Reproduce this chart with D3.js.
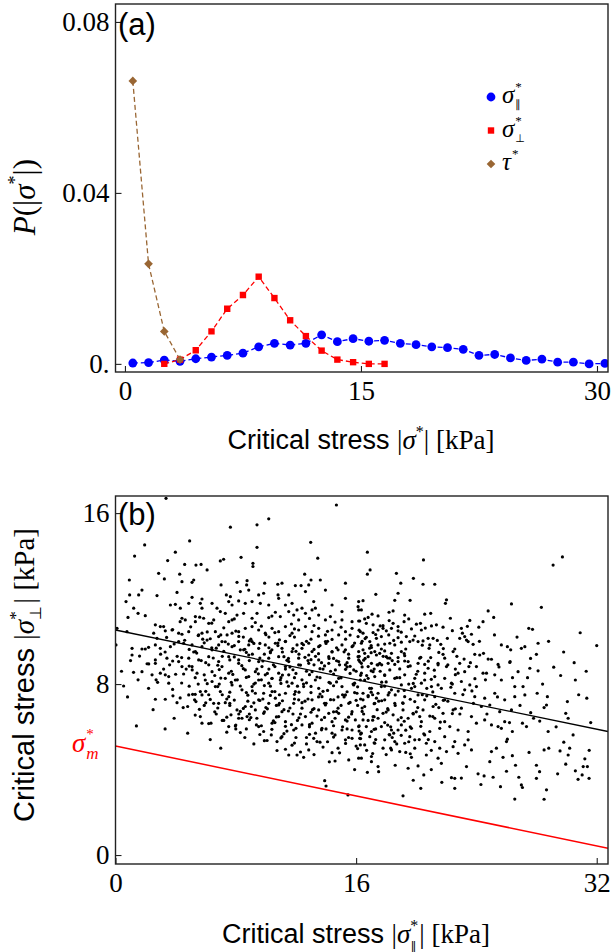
<!DOCTYPE html>
<html>
<head>
<meta charset="utf-8">
<script src="https://cdn.jsdelivr.net/npm/d3@7"></script>
<style>
  html, body { margin: 0; padding: 0; background: #fff; }
  svg { display: block; -webkit-font-smoothing: antialiased; }
  .gray-aa { opacity: 0.995; }
</style>
</head>
<body>
<script>
// ---------- panel (a): distributions of critical stresses ----------
const binCenters = [0.5,1.5,2.5,3.5,4.5,5.5,6.5,7.5,8.5,9.5,10.5,11.5,12.5,13.5,14.5,15.5,16.5,17.5,18.5,19.5,20.5,21.5,22.5,23.5,24.5,25.5,26.5,27.5,28.5,29.5,30.5];
const pParallel = [0.0002,0.0003,0.0009,0.0006,0.0012,0.0016,0.0020,0.0025,0.0040,0.0048,0.0044,0.0048,0.0068,0.0052,0.0059,0.0053,0.0055,0.0048,0.0045,0.0040,0.0038,0.0034,0.0020,0.0022,0.0014,0.0008,0.0011,0.0004,0.0004,0.0000,0.0001];
const perpCenters = [2.5,3.5,4.5,5.5,6.5,7.5,8.5,9.5,10.5,11.5,12.5,13.5,14.5,15.5,16.5];
const pPerp = [0.0000,0.0010,0.0032,0.0076,0.0129,0.0161,0.0204,0.0154,0.0102,0.0065,0.0031,0.0010,0.0004,0.0000,0.0000];
const shearCenters = [0.5,1.5,2.5,3.5];
const pShear = [0.0662,0.0234,0.0076,0.0010];
const xTicksA = [0, 15, 30];
const xTickLabelsA = ["0", "15", "30"];
const yTicksA = [0, 0.04, 0.08];
const yTickLabelsA = ["0.", "0.04", "0.08"];

// ---------- panel (b): perpendicular vs parallel critical stress ----------
const xTicksB = [0, 16, 32];
const yTicksB = [0, 8, 16];
const fitLineX = [0, 32.75];
const fitLineY = [10.53, 5.78];
const boundLineY = [5.10, 0.32];
const scatterPairs = [
[3.36,16.69],[14.69,16.38],[10.19,15.73],[7.64,15.34],[9.41,15.45],[4.93,14.70],[1.94,14.51],[9.41,14.40],[12.98,14.63],[1.27,13.99],
[3.98,14.17],[8.35,13.93],[13.45,13.89],[6.97,13.76],[7.19,13.84],[3.47,13.78],[4.60,13.60],[5.35,13.57],[5.69,13.60],[9.14,13.65],
[9.14,13.50],[6.09,13.34],[2.87,13.18],[4.27,13.14],[12.58,13.14],[0.92,12.87],[3.25,12.92],[5.20,12.87],[5.09,12.76],[4.42,12.79],
[7.02,12.64],[8.08,12.76],[8.75,12.84],[9.92,12.72],[10.79,12.67],[11.07,12.72],[11.96,12.61],[12.34,12.61],[12.85,12.64],[13.00,12.87],
[13.62,12.87],[15.29,12.72],[1.76,12.40],[1.54,12.17],[0.94,12.17],[2.76,12.14],[4.09,12.29],[5.09,12.06],[5.75,11.98],[7.37,12.17],
[7.64,12.09],[8.30,12.33],[8.72,12.64],[8.86,12.40],[9.52,12.17],[9.85,12.25],[10.81,12.17],[11.52,12.17],[12.63,12.33],[13.96,12.40],
[15.29,12.01],[16.17,11.86],[0.70,11.86],[1.21,11.55],[1.50,11.31],[1.98,11.20],[0.83,11.12],[3.65,11.70],[3.98,11.73],[4.31,11.55],
[4.87,11.78],[5.64,11.78],[5.75,11.55],[6.42,11.78],[6.75,11.55],[7.53,11.86],[7.75,11.70],[8.19,11.89],[8.63,11.78],[9.08,11.86],
[9.63,11.78],[10.19,11.70],[10.85,12.01],[11.30,11.70],[11.74,11.78],[12.07,11.47],[12.40,11.55],[13.18,11.86],[13.29,11.55],[14.40,11.70],
[15.06,11.39],[16.17,11.47],[2.65,10.77],[2.98,10.69],[3.20,10.69],[3.76,10.53],[4.42,11.08],[4.64,11.00],[5.31,11.16],[5.31,10.92],
[5.86,11.08],[6.20,10.84],[6.53,11.00],[6.97,11.39],[7.30,11.31],[7.53,10.92],[7.75,11.00],[8.08,11.23],[8.52,11.31],[9.08,11.08],
[9.41,11.31],[10.19,11.11],[10.63,11.36],[10.96,11.16],[11.52,11.39],[11.85,11.23],[12.18,11.00],[12.63,11.31],[13.07,11.47],[13.51,11.23],
[13.96,11.00],[14.29,11.16],[15.06,11.00],[15.73,10.92],[16.17,10.95],[0.10,10.61],[0.76,10.45],[2.54,10.38],[2.76,10.14],[3.31,10.49],
[4.20,10.38],[4.42,10.33],[4.87,10.45],[5.53,10.30],[5.75,10.38],[6.09,10.06],[6.64,10.45],[6.86,10.22],[7.42,10.30],[7.75,10.38],
[8.19,10.45],[8.63,10.61],[9.08,10.69],[9.52,10.53],[9.96,10.38],[10.41,10.61],[10.85,10.45],[11.30,10.69],[11.74,10.38],[12.18,10.53],
[12.63,10.69],[13.07,10.45],[13.51,10.61],[13.96,10.30],[14.40,10.53],[14.84,10.30],[15.29,10.45],[15.73,10.61],[16.28,10.45],[0.03,9.83],
[1.10,9.67],[1.10,9.36],[1.76,9.64],[1.98,9.64],[2.65,9.83],[2.98,9.67],[3.65,9.75],[4.20,9.99],[4.53,9.91],[5.09,9.83],
[5.31,9.52],[5.75,9.75],[6.42,9.60],[6.86,9.83],[7.08,9.99],[7.75,9.75],[8.19,9.99],[8.52,9.60],[8.86,9.83],[9.08,9.99],
[9.52,9.67],[9.96,9.83],[10.30,9.52],[10.63,9.91],[11.07,9.67],[11.30,9.99],[11.74,9.52],[12.07,9.83],[12.40,9.67],[12.85,9.91],
[13.07,9.52],[13.51,9.75],[13.96,9.99],[14.40,9.52],[15.06,9.83],[15.29,9.60],[15.73,9.75],[16.17,9.52],[2.65,9.13],[3.42,9.21],
[4.20,9.05],[4.87,9.21],[5.53,9.13],[6.20,9.28],[6.86,9.05],[7.53,9.28],[8.19,9.13],[8.86,9.36],[9.52,9.05],[10.19,9.21],
[10.85,9.28],[11.52,9.05],[12.18,9.21],[12.85,9.36],[13.51,9.13],[14.18,9.28],[14.84,9.05],[15.51,9.21],[16.17,9.13],
[16.75,14.17],[20.48,13.81],[29.72,13.95],[29.10,13.57],[16.93,13.34],[16.75,13.14],[18.68,13.18],[19.81,12.95],[18.97,12.72],[20.45,12.67],
[21.23,12.67],[17.31,12.20],[18.79,12.25],[16.46,11.90],[18.57,11.92],[19.59,11.92],[22.01,11.94],[21.94,11.78],[26.33,11.75],[28.32,11.59],
[16.13,11.62],[16.35,11.47],[17.06,11.27],[17.46,11.19],[18.19,11.36],[18.46,11.42],[19.23,11.23],[20.56,11.27],[20.96,11.31],[22.27,11.08],
[24.78,11.42],[25.15,11.12],[24.44,10.92],[23.56,10.98],[16.57,11.05],[16.24,10.95],[16.68,10.84],[17.13,10.77],[17.79,10.73],[18.46,10.84],
[18.79,10.69],[19.19,10.92],[20.01,10.80],[20.28,10.84],[21.01,10.72],[21.34,10.77],[21.78,10.66],[19.68,10.58],[20.34,10.53],[17.79,10.61],
[18.01,10.49],[18.35,10.61],[18.79,10.49],[16.46,10.38],[17.13,10.41],[17.46,10.53],[23.00,10.61],[24.16,10.66],[27.48,10.61],[27.73,10.56],
[23.07,10.38],[23.67,10.33],[16.13,10.22],[16.68,10.19],[17.35,10.14],[17.68,10.22],[18.17,10.30],[18.79,10.17],[19.34,10.22],[19.79,10.06],
[20.12,9.99],[20.79,10.14],[21.12,10.14],[22.07,10.14],[22.89,10.14],[23.22,10.22],[23.34,10.06],[16.35,9.91],[16.91,9.99],[17.46,9.83],
[18.24,9.91],[18.57,9.83],[19.01,9.96],[19.57,9.99],[20.45,10.02],[20.90,9.83],[21.63,9.86],[23.45,9.99],[23.78,9.86],[25.66,9.83],
[26.06,9.75],[26.28,9.60],[26.99,9.67],[27.22,9.75],[28.10,9.91],[16.46,9.60],[17.02,9.71],[17.24,9.52],[17.68,9.64],[17.90,9.55],
[18.35,9.44],[19.01,9.52],[19.23,9.33],[20.85,9.67],[21.78,9.39],[22.56,9.64],[22.45,9.52],[23.89,9.39],[24.22,9.36],[24.47,9.44],
[27.99,9.39],[16.13,9.28],[16.57,9.44],[16.80,9.28],[17.35,9.36],[17.57,9.44],[18.01,9.28],[18.24,9.21],[18.79,9.24],[20.23,9.21],
[20.96,9.24],[21.89,9.21],[23.18,9.17],[24.78,9.17],[25.00,9.16],[26.24,9.05],[19.23,9.08],[19.46,9.05],[22.89,8.97],[25.44,8.92],
[16.35,8.97],[17.02,8.97],[17.57,8.97],[18.57,8.92],[20.56,8.92],[21.45,8.97],
[0.54,7.91],[1.39,6.04],[1.76,8.58],[2.21,8.94],[2.65,8.97],[2.43,8.43],[2.80,8.08],[2.98,8.51],[3.31,8.43],[3.54,8.35],
[3.54,8.04],[2.65,7.29],[3.31,7.29],[3.82,7.45],[4.09,7.13],[4.42,8.82],[4.53,8.47],[4.87,7.49],[5.13,7.52],[5.26,7.26],
[5.35,7.18],[5.64,7.65],[5.75,7.49],[5.58,6.82],[5.64,6.48],[5.75,6.17],[6.35,6.17],[6.42,8.12],[6.53,7.10],[6.86,7.10],
[7.30,7.13],[7.53,6.01],[7.97,6.04],[8.30,5.73],[7.68,6.56],[8.08,6.79],[8.19,6.40],[8.41,6.40],[8.75,6.48],[8.90,6.60],
[9.03,6.95],[9.37,6.09],[9.52,6.01],[9.85,5.78],[10.08,5.36],[10.36,5.62],[10.74,5.31],[10.74,4.89],[11.07,5.54],[11.52,4.68],
[11.74,5.14],[12.07,4.68],[12.51,4.57],[12.85,4.92],[13.18,5.46],[13.40,5.31],[13.91,3.48],[14.00,3.23],[14.22,4.36],[14.40,4.79],
[15.51,4.45],[15.46,2.81],[16.17,4.53],[16.28,5.15],[15.73,5.46],[15.29,5.39],[15.06,5.85],[14.40,5.70],[13.73,5.93],[13.07,6.17],
[12.40,6.09],[11.85,5.85],[11.30,6.24],[10.85,6.48],[10.41,6.17],[9.85,6.63],[9.30,6.79],[8.63,6.95],[7.53,7.41],[6.97,7.65],
[6.64,7.88],[5.97,8.19],[5.42,8.51],[5.09,8.82],[7.08,8.82],[7.53,8.51],[7.97,8.19],[8.19,8.97],[8.63,8.66],[8.86,8.35],
[9.08,7.88],[9.30,7.57],[9.52,7.26],[9.74,8.82],[9.96,8.43],[10.19,8.04],[10.41,7.65],[10.63,7.34],[10.85,7.02],[11.07,6.71],
[11.30,8.82],[11.52,8.43],[11.74,8.04],[11.96,7.65],[12.18,7.26],[12.40,6.87],[12.63,6.48],[12.85,8.97],[13.07,8.58],[13.29,8.19],
[13.51,7.80],[13.73,7.41],[13.96,7.02],[14.18,6.63],[14.40,6.24],[14.62,8.66],[14.84,8.27],[15.06,7.88],[15.29,7.49],[15.51,7.10],
[15.73,6.71],[15.95,6.32],[16.17,6.01],[16.28,8.19],[16.06,7.57],[15.84,8.66],[15.29,8.90],[14.18,8.97],[12.18,8.90],[10.85,8.51],
[10.41,8.27],[9.52,8.19],[8.41,7.73],[7.75,7.96],[7.30,8.27],[6.42,8.58],[6.20,8.90],[9.85,7.57],[10.19,7.10],[11.30,7.57],
[11.85,7.10],[13.07,7.26],[13.51,6.79],[14.51,7.26],[14.84,6.63],[15.29,6.32],[15.73,5.85],[9.30,8.58],[10.96,8.19],[12.51,7.88],
[14.29,8.04],[15.84,7.96],
[16.24,9.05],[16.80,8.82],[17.46,8.90],[18.13,8.97],[18.79,9.05],[19.46,8.82],[20.12,8.97],[20.79,8.74],[21.45,8.90],[22.01,8.82],
[22.78,8.51],[23.22,8.58],[24.00,8.82],[24.67,8.51],[25.22,8.43],[26.22,9.01],[26.77,8.58],[27.55,8.74],[28.10,8.62],[29.14,8.79],
[30.58,8.19],[31.34,7.34],[30.05,7.18],[29.94,6.63],[30.43,5.62],[28.72,7.41],[28.66,7.02],[28.04,7.57],[27.61,6.66],[28.21,6.27],
[28.77,5.78],[28.50,4.92],[28.81,5.00],[29.56,4.87],[29.81,5.28],[30.10,4.68],[31.21,4.50],[31.10,4.14],[31.38,4.14],[30.58,3.94],
[31.03,3.75],[31.49,3.59],[30.76,3.54],[29.94,4.25],[28.66,3.05],[28.50,2.61],[27.99,4.20],[27.99,3.59],[26.99,3.28],[27.06,3.16],
[26.55,2.62],[26.82,3.64],[26.00,3.92],[26.39,4.65],[25.77,4.57],[26.00,5.31],[26.06,5.42],[25.66,5.93],[25.33,5.00],[25.00,4.84],
[24.89,4.37],[25.11,3.64],[24.51,3.70],[24.11,3.80],[23.34,4.14],[22.56,3.59],[22.56,3.12],[22.34,3.62],[20.30,3.12],[20.50,3.75],
[19.12,2.77],[19.46,4.06],[20.12,4.17],[16.75,3.87],[17.02,4.37],[17.46,4.14],[17.02,4.61],[16.35,4.53],[17.79,5.00],[18.35,4.92],
[18.90,4.84],[19.68,4.57],[20.67,4.68],[21.45,4.53],[21.67,4.29],[22.01,4.84],[22.78,4.76],[23.67,4.92],[23.22,5.15],[22.56,5.31],
[21.89,5.54],[21.23,5.31],[20.56,5.62],[19.90,5.39],[19.23,5.23],[18.57,5.31],[17.90,5.39],[17.24,5.23],[16.57,5.15],[16.35,5.70],
[17.02,5.78],[17.68,6.01],[18.35,5.85],[19.01,6.09],[19.68,5.93],[20.34,6.24],[20.90,5.78],[21.56,5.93],[22.23,6.01],[22.78,5.85],
[23.45,5.78],[24.00,6.17],[24.55,6.32],[25.00,6.09],[25.44,6.01],[25.88,6.24],[26.39,5.78],[27.06,6.17],[27.33,6.01],[16.46,6.32],
[17.13,6.48],[17.79,6.63],[18.46,6.56],[19.12,6.79],[19.79,6.63],[20.45,6.79],[21.12,6.95],[21.78,6.63],[22.45,6.79],[23.00,6.87],
[23.67,6.48],[24.33,6.95],[24.89,7.02],[25.55,6.71],[26.33,6.79],[16.57,6.95],[17.24,7.10],[17.90,7.26],[18.57,7.10],[19.23,7.41],
[19.90,7.18],[20.56,7.26],[21.23,7.41],[21.89,7.26],[22.56,7.57],[23.22,7.73],[23.89,7.41],[24.55,7.34],[25.22,7.57],[25.88,7.26],
[26.55,7.41],[27.22,7.49],[16.46,7.57],[17.02,7.80],[17.68,7.88],[18.35,7.73],[19.01,7.96],[19.68,7.80],[20.34,8.04],[21.01,7.88],
[21.67,7.80],[22.34,8.04],[23.00,8.12],[23.56,7.96],[24.00,7.88],[24.44,8.51],[25.66,8.19],[26.55,7.88],[27.10,7.88],[16.57,8.19],
[17.24,8.35],[17.90,8.43],[18.57,8.27],[19.23,8.43],[19.90,8.27],[20.56,8.51],[21.23,8.35],[21.89,8.27],[16.80,7.41],[17.46,7.57],
[18.13,6.79],[18.79,6.32],[16.35,8.51],[17.13,8.58],[18.24,8.66],[20.56,8.19],[21.45,7.96],[16.46,7.26],[17.35,7.34],[18.13,7.49],
[19.12,7.10],[20.12,7.49],[16.68,6.01],[17.46,6.40],[18.79,5.85],[19.46,6.40],[20.23,6.48],[21.23,6.40],[21.89,6.24],[16.24,5.46],
[16.91,5.54],[18.24,5.62],[19.57,5.54],[20.67,5.23],[21.56,5.00],[22.45,5.07],[23.45,5.39],
[8.3,9.6],[8.9,9.1],[9.4,8.7],[9.9,9.4],[10.5,8.9],[11.1,9.5],[11.6,8.8],[12.2,9.4],[12.7,8.6],[13.3,9.3],
[13.8,8.7],[14.4,9.5],[14.9,8.9],[15.5,9.4],[16.0,8.6],[16.6,9.2],[17.2,8.7],[17.8,9.3],[8.1,8.2],[8.7,7.6],
[9.2,8.0],[9.8,7.3],[10.3,7.9],[10.9,7.5],[11.4,8.1],[11.9,7.3],[12.5,8.0],[13.0,7.6],[13.6,8.3],[14.1,7.7],
[14.7,8.1],[15.2,7.4],[15.8,8.0],[16.3,7.3],[16.9,7.8],[17.5,7.2],[7.6,7.0],[8.2,6.6],[8.8,7.2],[9.4,6.4],
[10.0,6.9],[10.6,6.2],[11.2,6.8],[11.7,6.1],[12.3,6.6],[12.9,6.0],[13.4,6.5],[14.0,5.9],[14.6,6.4],[15.1,6.0],
[15.7,6.6],[16.2,5.8],[16.8,6.3],[17.3,5.9],[17.9,6.2],[18.5,5.7],[9.0,10.1],[9.6,9.9],[10.2,10.2],[10.8,9.8],
[11.3,10.0],[11.9,10.2],[12.4,9.9],[13.0,10.1],[13.6,9.8],[14.1,10.0],[14.7,9.7],[15.3,10.1],[15.8,9.8],[16.4,10.0],
[17.0,9.8],[6.0,9.0],[6.6,8.4],[7.1,9.3],[7.7,8.6],[5.5,8.0],[6.2,7.5],[6.9,8.0],[7.4,7.3],[5.9,7.0],
[6.7,6.6],[7.2,6.3],[8.0,5.9],[8.6,5.5],[9.2,5.2],[12.0,8.5],[12.6,7.2],[13.2,8.9],[13.9,7.1],[14.3,8.6],
[15.0,7.0],[15.6,8.5],[16.1,7.0],[16.7,8.4],[17.4,6.8],[18.0,8.1],[18.6,7.0],[19.2,7.7],[19.8,6.6],[20.4,7.5],
[10.1,8.5],[10.7,7.0],[11.3,8.7],[11.8,6.6],[12.4,8.2],[13.1,6.8],[13.7,9.0],[14.5,6.7],[15.4,8.8],[16.5,6.6],
[17.6,8.6],[18.3,6.0],[19.0,5.6],[19.6,6.0],[20.2,5.4],[20.9,6.5],[21.5,6.9],[22.1,7.2],[9.1,9.4],[9.7,8.2],
[10.4,9.6],[11.0,8.3],[11.5,9.2],[12.1,7.9],[12.8,9.1],[13.5,7.4],[14.2,9.2],[14.8,7.4],[15.4,9.0],[15.9,7.6],
[16.4,8.8],[17.1,7.5],[17.7,8.9],[18.2,7.6],[18.9,8.3],[19.5,8.0],[20.1,8.6],[20.7,7.8],[7.9,9.8],[8.5,10.2],
[7.0,10.3],[6.4,9.7],[5.8,10.1],[5.2,9.5],[4.7,8.7],[4.1,9.3],[3.6,8.9],[3.0,9.4],[11.4,5.8],[12.0,5.5],
[12.7,5.2],[13.3,5.7],[14.1,5.3],[14.8,5.0],[15.5,5.5],[16.0,5.1],[16.7,4.9],[17.3,5.4],[18.0,4.7],[18.7,5.2],
[19.3,4.8],[19.9,5.0],[13.2,4.7],[14.6,4.4],[15.9,4.0],[17.5,3.9],[18.6,4.2],[19.8,3.5],[21.0,4.0],[21.7,3.4],
[23.0,3.6],[24.3,3.3],[25.6,3.2],[26.6,4.2],[27.5,4.8],[28.2,3.9],[29.4,3.8],[30.2,5.0],[31.5,4.9],[22.9,6.6],
[23.8,7.1],[24.7,6.6],[25.4,7.4],[26.2,6.2],[26.9,7.0],[27.8,6.4],[28.5,6.9],[29.3,6.0],[30.1,6.4],[30.8,7.5],
[31.6,6.2],[22.6,8.7],[23.6,9.0],[24.6,8.2],[25.5,8.8],[26.4,8.3],[27.4,8.3],[28.4,8.0],[29.6,8.4],[30.5,9.0],
[31.3,8.6],[23.4,10.7],[24.2,10.0],[25.2,10.3],[26.7,10.2],[27.6,9.2],[28.8,10.0],[29.8,9.5],[30.9,10.4],[32.0,9.8],
[1.0,9.1],[0.4,8.6],[1.5,8.2],[2.2,7.8],[0.8,7.4],[2.5,6.8],[3.9,6.4],[4.5,6.9],[3.3,5.9],[4.8,5.7],
[6.3,5.4],[7.0,5.0],
// dense central cloud
[4.3,10.92],[5.6,11.13],[6.4,10.85],[7.9,11.05],[9.3,10.88],[10.4,11.18],[11.7,10.81],[12.9,11.07],[14.6,10.9],[16.8,11.12],[18.2,10.97],[19.5,11.05],
[3.8,10.55],[5.0,10.68],[6.1,10.44],[7.2,10.63],[8.0,10.48],[9.7,10.71],[10.6,10.41],[11.9,10.58],[13.2,10.74],[14.1,10.47],[15.0,10.66],[16.2,10.52],[17.6,10.72],[19.0,10.43],[20.6,10.62],[22.4,10.5],
[3.4,10.18],[4.6,10.05],[5.5,10.27],[6.3,10.12],[7.3,9.98],[8.2,10.23],[8.9,10.02],[10.0,10.31],[10.9,10.07],[11.6,10.27],[12.7,10.0],[13.5,10.24],[14.4,10.09],[15.6,10.29],[16.6,10.13],[17.3,10.32],[18.5,10.04],[19.9,10.25],[21.4,10.04],
[2.2,9.72],[3.9,9.88],[4.9,9.62],[5.9,9.93],[6.7,9.68],[7.5,9.87],[8.6,9.63],[9.2,9.9],[10.2,9.7],[10.8,9.92],[11.8,9.66],[12.5,9.84],[13.2,9.62],[14.0,9.9],[14.8,9.6],[15.9,9.92],[16.9,9.68],[17.9,9.87],[19.3,9.64],[20.4,9.82],[21.8,9.66],
[1.6,9.31],[3.3,9.5],[4.4,9.24],[5.4,9.45],[6.5,9.22],[7.2,9.53],[7.9,9.27],[8.7,9.48],[9.6,9.22],[10.3,9.47],[11.2,9.28],[12.0,9.53],[12.6,9.25],[13.5,9.42],[14.5,9.2],[15.2,9.51],[16.2,9.3],[17.0,9.47],[18.1,9.22],[19.2,9.43],[20.3,9.25],[21.5,9.48],[22.7,9.3],
[2.1,8.95],[3.8,9.08],[4.9,8.84],[5.7,9.1],[6.8,8.88],[7.6,9.13],[8.4,8.86],[9.8,9.08],[10.6,8.82],[11.4,9.11],[12.3,8.89],[13.0,9.14],[13.9,8.85],[14.7,9.09],[15.6,8.83],[16.5,9.12],[17.4,8.9],[18.4,9.1],[19.6,8.85],[20.8,9.07],[22.1,8.9],[23.5,8.82],
[1.2,8.55],[3.2,8.7],[4.0,8.46],[5.1,8.66],[5.9,8.43],[6.9,8.68],[7.8,8.45],[8.5,8.72],[9.5,8.48],[10.2,8.7],[11.1,8.42],[11.8,8.67],[12.9,8.44],[13.6,8.72],[14.5,8.47],[15.3,8.69],[16.3,8.41],[17.0,8.62],[17.9,8.4],[18.9,8.71],[20.0,8.46],[21.2,8.65],[22.6,8.44],
[2.7,8.2],[4.4,8.05],[5.3,8.3],[6.1,8.02],[7.0,8.28],[7.7,8.08],[8.7,8.31],[9.3,8.05],[10.4,8.26],[11.0,8.03],[11.9,8.3],[12.7,8.06],[13.4,8.33],[14.2,8.08],[15.0,8.29],[15.9,8.04],[16.8,8.27],[17.7,8.09],[18.7,8.3],[19.8,8.03],[21.0,8.22],[22.4,8.0],[23.9,8.25],
[3.8,7.75],[4.9,7.9],[6.0,7.66],[6.8,7.88],[7.6,7.62],[8.3,7.91],[9.1,7.68],[9.9,7.93],[10.6,7.65],[11.5,7.9],[12.2,7.62],[13.0,7.89],[13.8,7.66],[14.5,7.92],[15.4,7.64],[16.1,7.87],[17.0,7.62],[17.9,7.9],[18.8,7.67],[19.9,7.88],[21.1,7.63],[22.3,7.85],[23.7,7.68],
[4.3,7.35],[5.3,7.52],[6.3,7.28],[7.1,7.5],[7.9,7.25],[8.8,7.48],[9.6,7.23],[10.3,7.47],[11.1,7.22],[11.9,7.52],[12.8,7.3],[13.6,7.53],[14.3,7.27],[15.1,7.5],[16.0,7.24],[16.8,7.46],[17.7,7.22],[18.6,7.49],[19.6,7.29],[20.7,7.45],[21.8,7.24],[23.1,7.51],
[4.8,6.95],[6.0,7.12],[6.8,6.88],[7.6,7.1],[8.5,6.86],[9.2,7.12],[10.1,6.84],[10.9,7.1],[11.6,6.88],[12.4,7.13],[13.2,6.85],[14.0,7.1],[14.8,6.87],[15.6,7.14],[16.4,6.88],[17.2,7.08],[18.1,6.85],[19.1,7.12],[20.1,6.9],[21.3,7.05],[22.6,6.84],
[5.3,6.55],[6.6,6.7],[7.4,6.45],[8.3,6.72],[9.0,6.43],[9.9,6.7],[10.7,6.46],[11.5,6.74],[12.2,6.42],[13.0,6.68],[13.9,6.44],[14.7,6.71],[15.5,6.45],[16.4,6.72],[17.2,6.47],[18.0,6.69],[19.0,6.43],[20.0,6.7],[21.1,6.48],[22.4,6.62],
[6.2,6.15],[7.1,6.3],[8.0,6.08],[8.9,6.33],[9.7,6.05],[10.5,6.28],[11.3,6.02],[12.1,6.3],[12.9,6.1],[13.7,6.33],[14.5,6.05],[15.4,6.27],[16.2,6.04],[17.1,6.31],[18.1,6.08],[19.2,6.26],[20.3,6.02],[21.6,6.22],
[7.4,5.75],[8.7,5.9],[9.6,5.64],[10.4,5.88],[11.2,5.68],[12.0,5.93],[12.9,5.65],[13.7,5.86],[14.6,5.62],[15.4,5.9],[16.3,5.66],[17.2,5.88],[18.2,5.64],[19.3,5.84],[20.5,5.67],
[9.9,5.35],[11.0,5.48],[11.9,5.24],[12.7,5.5],[13.6,5.28],[14.5,5.52],[15.3,5.22],[16.3,5.45],[17.2,5.25],[18.4,5.5],[19.5,5.3],[20.8,5.4],
[11.3,4.95],[12.3,4.82],[13.8,5.05],[14.9,4.78],[16.1,4.98],[17.1,4.75],[18.3,5.0],[19.6,4.74],[21.0,4.9]
];

const W = 611, H = 952;
const SERIF = "'Liberation Serif', 'Times New Roman', serif";
const SANS = "'Liberation Sans', Arial, sans-serif";
const SYM = "'DejaVu Sans', sans-serif";
const BLUE = "#0000ff", RED = "#ff0000", BROWN = "#996633";

const svg = d3.select("body").append("svg")
  .attr("width", W).attr("height", H)
  .attr("viewBox", `0 0 ${W} ${H}`);

// frame geometry
const frameA = { left: 115.5, right: 608, top: 4, bottom: 372 };
const frameB = { left: 115.5, right: 608, top: 496, bottom: 864 };

const xA = d3.scaleLinear().domain([-0.6, 30.7]).range([frameA.left, frameA.right]);
const yA = d3.scaleLinear().domain([-0.0019, 0.0842]).range([frameA.bottom, frameA.top]);
const xB = d3.scaleLinear().domain([0, 32.75]).range([frameB.left, frameB.right]);
const yB = d3.scaleLinear().domain([-0.42, 16.8]).range([frameB.bottom, frameB.top]);

function drawFrame(f) {
  svg.append("rect")
    .attr("x", f.left).attr("y", f.top)
    .attr("width", f.right - f.left).attr("height", f.bottom - f.top)
    .attr("fill", "none").attr("stroke", "#222").attr("stroke-width", 1.4);
}

function styleAxis(g) {
  g.select(".domain").remove();
  g.selectAll(".tick line").attr("stroke", "#222").attr("stroke-width", 1.1);
  g.selectAll(".tick text")
    .attr("font-family", SERIF).attr("font-size", 27).attr("fill", "#000");
}

function drawAxes(f, xs, ys, xt, xl, yt, yl) {
  svg.append("g")
    .attr("transform", `translate(0,${f.bottom})`)
    .call(d3.axisBottom(xs).tickValues(xt).tickFormat((d, i) => xl[i])
      .tickSizeInner(-6).tickSizeOuter(0).tickPadding(9))
    .call(styleAxis)
    .call(g => g.selectAll(".tick text").attr("dy", "0.71em"));
  svg.append("g")
    .attr("transform", `translate(${f.left},0)`)
    .call(d3.axisLeft(ys).tickValues(yt).tickFormat((d, i) => yl[i])
      .tickSizeInner(-6).tickSizeOuter(0).tickPadding(6))
    .call(styleAxis);
}

// ================= panel (a) =================
svg.append("clipPath").attr("id", "clipA")
  .append("rect").attr("x", frameA.left).attr("y", frameA.top)
  .attr("width", frameA.right - frameA.left).attr("height", frameA.bottom - frameA.top);

const plotA = svg.append("g").attr("clip-path", "url(#clipA)");

const lineA = d3.line().x(d => xA(d[0])).y(d => yA(d[1]));
const seriesA = [
  { xs: binCenters, ys: pParallel, color: BLUE, shape: "circle" },
  { xs: perpCenters, ys: pPerp, color: RED, shape: "square" },
  { xs: shearCenters, ys: pShear, color: BROWN, shape: "diamond" }
];

seriesA.forEach(s => {
  const pts = s.xs.map((x, i) => [x, s.ys[i]]);
  plotA.append("path").datum(pts)
    .attr("d", lineA)
    .attr("fill", "none").attr("stroke", s.color)
    .attr("stroke-width", 1.3).attr("stroke-dasharray", "5,3");
});

const symCircle = d3.symbol().type(d3.symbolCircle).size(Math.PI * 4.4 * 4.4);
const symSquare = d3.symbol().type(d3.symbolSquare).size(6.4 * 6.4);
const symDiamond = d3.symbol().type(d3.symbolDiamond2).size(48);
const symOf = { circle: symCircle, square: symSquare, diamond: symDiamond };

seriesA.forEach(s => {
  const pts = s.xs.map((x, i) => [x, s.ys[i]]);
  plotA.selectAll(null).data(pts).enter().append("path")
    .attr("d", symOf[s.shape])
    .attr("transform", d => `translate(${xA(d[0])},${yA(d[1])})`)
    .attr("fill", s.color);
});

drawFrame(frameA);
drawAxes(frameA, xA, yA, xTicksA, xTickLabelsA, yTicksA, yTickLabelsA);

// panel letter
svg.append("text").attr("x", 118).attr("y", 35)
  .attr("font-family", SANS).attr("font-size", 31).text("(a)");

// legend
const legendItems = [
  { shape: "circle", color: BLUE, sym: "σ", sub: "∥" },
  { shape: "square", color: RED, sym: "σ", sub: "⊥" },
  { shape: "diamond", color: BROWN, sym: "τ", sub: null }
];
legendItems.forEach((it, i) => {
  const cy = 97 + i * 33.5;
  svg.append("path").attr("d", symOf[it.shape])
    .attr("transform", `translate(491,${cy})`).attr("fill", it.color);
  const t = svg.append("text").attr("class", "gray-aa")
    .attr("x", 502).attr("y", cy + 6)
    .attr("font-family", SERIF).attr("font-size", 25).attr("fill", "#000");
  t.append("tspan").attr("font-style", "italic").text(it.sym);
  t.append("tspan").attr("font-size", 13).attr("dx", 1).attr("dy", -12).text("*");
  if (it.sub) {
    t.append("tspan").attr("font-family", SYM).attr("font-size", 11)
      .attr("dx", -6.5).attr("dy", 17).text(it.sub);
  }
});

// axis labels (a)
{
  const t = svg.append("text")
    .attr("x", 361).attr("y", 449).attr("text-anchor", "middle")
    .attr("font-family", SERIF).attr("font-size", 27);
  t.append("tspan").attr("font-family", SANS).text("Critical stress ");
  t.append("tspan").text("|");
  t.append("tspan").attr("font-style", "italic").text("σ");
  t.append("tspan").attr("font-size", 16).attr("dy", -12).text("*");
  t.append("tspan").attr("dy", 12).text("| [kPa]");
}
{
  const t = svg.append("text")
    .attr("transform", "translate(35,197) rotate(-90)")
    .attr("text-anchor", "middle")
    .attr("font-family", SERIF).attr("font-size", 31);
  t.append("tspan").attr("font-style", "italic").text("P");
  t.append("tspan").text("(|");
  t.append("tspan").attr("font-style", "italic").text("σ");
  t.append("tspan").attr("font-size", 18).attr("dy", -14).text("*");
  t.append("tspan").attr("dy", 14).text("|)");
}

// ================= panel (b) =================
svg.append("clipPath").attr("id", "clipB")
  .append("rect").attr("x", frameB.left).attr("y", frameB.top)
  .attr("width", frameB.right - frameB.left).attr("height", frameB.bottom - frameB.top);
const plotB = svg.append("g").attr("clip-path", "url(#clipB)");

plotB.selectAll("circle.pt").data(scatterPairs).enter().append("circle")
  .attr("class", "pt")
  .attr("cx", d => xB(d[0])).attr("cy", d => yB(d[1]))
  .attr("r", 1.6).attr("fill", "#000");

const lineB = d3.line().x(d => xB(d[0])).y(d => yB(d[1]));
plotB.append("path")
  .datum(fitLineX.map((x, i) => [x, fitLineY[i]]))
  .attr("d", lineB).attr("fill", "none").attr("stroke", "#000").attr("stroke-width", 1.3);
plotB.append("path")
  .datum(fitLineX.map((x, i) => [x, boundLineY[i]]))
  .attr("d", lineB).attr("fill", "none").attr("stroke", RED).attr("stroke-width", 1.5);

drawFrame(frameB);
drawAxes(frameB, xB, yB, xTicksB, xTicksB.map(String), yTicksB, yTicksB.map(String));

svg.append("text").attr("x", 118).attr("y", 525)
  .attr("font-family", SANS).attr("font-size", 31).text("(b)");

// sigma_m label next to the red line
{
  const t = svg.append("text").attr("x", 72).attr("y", 752)
    .attr("font-family", SERIF).attr("font-size", 27).attr("fill", RED);
  t.append("tspan").attr("font-style", "italic").text("σ");
  t.append("tspan").attr("font-size", 15).attr("dx", 1).attr("dy", -13).text("*");
  t.append("tspan").attr("font-size", 17).attr("font-style", "italic").attr("dx", -7.5).attr("dy", 20).text("m");
}

// axis labels (b)
{
  const t = svg.append("text").attr("class", "gray-aa")
    .attr("x", 356).attr("y", 943).attr("text-anchor", "middle")
    .attr("font-family", SERIF).attr("font-size", 27).attr("fill", "#000");
  t.append("tspan").attr("font-family", SANS).text("Critical stress ");
  t.append("tspan").text("|");
  t.append("tspan").attr("font-style", "italic").text("σ");
  t.append("tspan").attr("font-size", 16).attr("dy", -12).text("*");
  t.append("tspan").attr("font-family", SYM).attr("font-size", 12)
    .attr("dx", -8).attr("dy", 19).text("∥");
  t.append("tspan").attr("dx", 3).attr("dy", -7).text("| [kPa]");
}
{
  const t = svg.append("text")
    .attr("transform", "translate(34,675) rotate(-90)")
    .attr("text-anchor", "middle")
    .attr("font-family", SERIF).attr("font-size", 29);
  t.append("tspan").attr("font-family", SANS).text("Critical stress ");
  t.append("tspan").text("|");
  t.append("tspan").attr("font-style", "italic").text("σ");
  t.append("tspan").attr("font-size", 17).attr("dy", -13).text("*");
  t.append("tspan").attr("font-size", 16).attr("dx", -8.5).attr("dy", 20).text("⊥");
  t.append("tspan").attr("dx", 2).attr("dy", -7).text("| [kPa]");
}
</script>
</body>
</html>
